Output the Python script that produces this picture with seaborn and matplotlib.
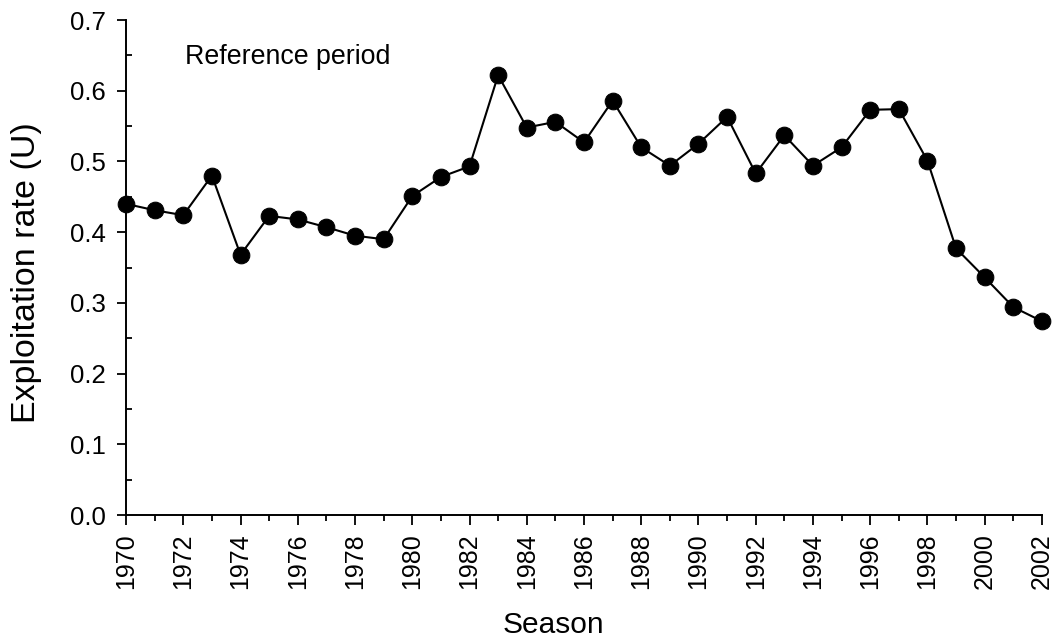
import matplotlib
matplotlib.use("Agg")
import matplotlib.pyplot as plt
from matplotlib.ticker import MultipleLocator
import numpy as np
import pandas as pd
import seaborn as sns

# Annual exploitation rate by season
seasons = list(range(1970, 2003))
exploitation_rate = [
    0.440, 0.431, 0.424, 0.480, 0.368, 0.423, 0.418, 0.407, 0.395, 0.390,
    0.451, 0.478, 0.493, 0.622, 0.548, 0.556, 0.527, 0.586, 0.520, 0.494,
    0.525, 0.563, 0.483, 0.537, 0.494, 0.520, 0.573, 0.574, 0.501, 0.377,
    0.336, 0.294, 0.274,
]
x_tick_labels = [str(y) for y in range(1970, 2003, 2)]
y_tick_labels = ["0.0", "0.1", "0.2", "0.3", "0.4", "0.5", "0.6", "0.7"]
annotation_text = "Reference period"

df = pd.DataFrame({"Season": seasons, "U": exploitation_rate})

sns.set_style("ticks")
plt.rcParams["font.family"] = ["Liberation Sans", "DejaVu Sans"]
plt.rcParams["text.color"] = "black"
plt.rcParams["axes.labelcolor"] = "black"
plt.rcParams["xtick.color"] = "black"
plt.rcParams["ytick.color"] = "black"

fig = plt.figure(figsize=(10.53, 6.44), dpi=100)
ax = fig.add_axes([0.1197, 0.2003, 0.8698, 0.7686])

sns.lineplot(
    data=df, x="Season", y="U", ax=ax,
    color="black", linewidth=1.5,
    marker="o", markersize=12, markeredgecolor="black",
    markerfacecolor="black", clip_on=False, zorder=3,
)

ax.set_xlim(1970, 2002)
ax.set_ylim(0, 0.7)

ax.set_xticks(range(1970, 2003, 2))
ax.set_xticklabels(x_tick_labels, rotation=90, fontsize=18)
ax.xaxis.set_minor_locator(MultipleLocator(1))
ax.set_yticks(np.arange(0, 0.71, 0.1))
ax.set_yticklabels(y_tick_labels, fontsize=18.5)
ax.yaxis.set_minor_locator(MultipleLocator(0.05))

ax.tick_params(axis="x", which="major", direction="out", length=7, width=1.3, pad=6)
ax.tick_params(axis="x", which="minor", direction="out", length=4, width=1.3)
ax.tick_params(axis="y", which="major", direction="out", length=6.5, width=1.3, pad=8)
ax.tick_params(axis="y", which="minor", direction="in", length=4.5, width=1.3)

for side in ("top", "right"):
    ax.spines[side].set_visible(False)
for side in ("left", "bottom"):
    ax.spines[side].set_linewidth(1.4)
    ax.spines[side].set_color("black")

ax.set_xlabel("Season", fontsize=21.5)
ax.xaxis.set_label_coords(0.467, -0.193)
ax.set_ylabel("Exploitation rate (U)", fontsize=24.5)
ax.yaxis.set_label_coords(-0.092, 0.49)

ax.text(0.0644, 0.925, annotation_text, transform=ax.transAxes,
        fontsize=19.3, va="center", ha="left")

fig.savefig("out.png", dpi=100)
